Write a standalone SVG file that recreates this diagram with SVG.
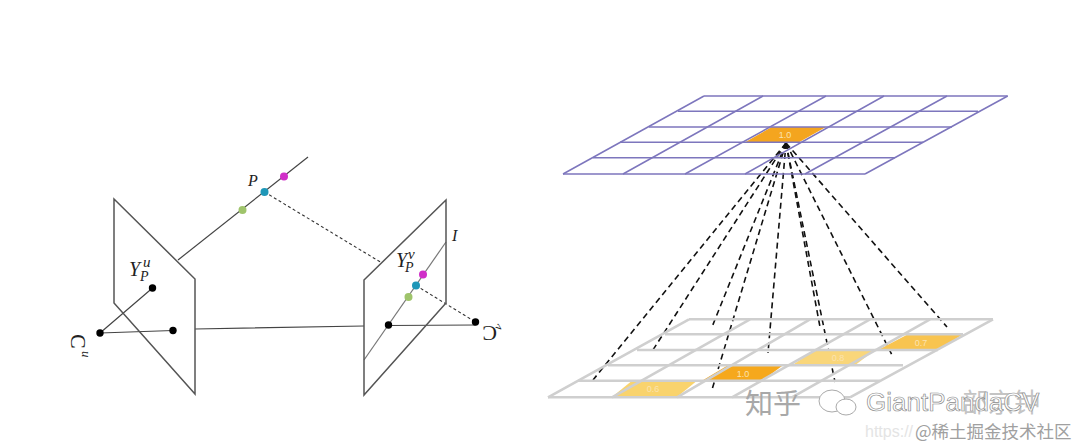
<svg xmlns="http://www.w3.org/2000/svg" width="1080" height="448" viewBox="0 0 1080 448">
<style>
.plane{fill:none;stroke:#555;stroke-width:1.5}
.ray{fill:none;stroke:#444;stroke-width:1.2}
.dash{fill:none;stroke:#333;stroke-width:1.1;stroke-dasharray:3 2.5}
.k{fill:#000}
.m{font-family:"Liberation Serif",serif;font-style:italic;fill:#222}
.top{fill:none;stroke:#7d76bd;stroke-width:1.5}
.bot{fill:none;stroke:#cfcfcf;stroke-width:2.6}
.fan{fill:none;stroke:#111;stroke-width:1.6;stroke-dasharray:6 4}
.v{font-family:"Liberation Sans",sans-serif;font-size:9px;fill:#fbe3b0;text-anchor:middle}
.wm{font-family:"Noto Sans CJK SC","Liberation Sans",sans-serif}
</style>
<rect width="1080" height="448" fill="#fff"/>
<g id="connectors">
<path class="ray" d="M178 260L308 157"/>
<path class="dash" d="M264.500 192L382 263"/>
<path class="ray" d="M100 333L152.500 288M100 333L173 330.500M195 329L364 326"/>
<path class="ray" style="stroke:#777" d="M364 360L446 242"/>
<path class="ray" d="M388.500 325.500L475.500 325"/>
<path class="dash" d="M416 285.500L475.500 322"/>
<g id="fan">
<path class="fan" d="M786 143L593 380"/>
<path class="fan" d="M786 143L651 353"/>
<path class="fan" d="M786 143L712 327"/>
<path class="fan" d="M786 143L712.500 388"/>
<path class="fan" d="M786 143L768 353"/>
<path class="fan" d="M786 143L820 327"/>
<path class="fan" d="M786 143L835 382"/>
<path class="fan" d="M786 143L893 357"/>
<path class="fan" d="M786 143L947 327"/>
</g>
</g>
<g id="plane-u"><path class="plane" d="M114 199L195 279V394L114 303Z"/></g>
<g id="plane-v"><path class="plane" d="M364 280L446 200V303L364 395Z"/></g>
<g id="point-P">
<circle cx="242.500" cy="210" r="4" fill="#9fc46b"/>
<circle cx="264.500" cy="192" r="4" fill="#1f97b8"/>
<circle cx="284" cy="176.500" r="4" fill="#d02fc8"/>
<text class="m" x="248" y="186" font-size="16">P</text>
</g>
<g id="point-l">
<circle cx="408.500" cy="297" r="4" fill="#9fc46b"/>
<circle cx="416" cy="285.500" r="4" fill="#1f97b8"/>
<circle cx="423" cy="274.500" r="4" fill="#d02fc8"/>
<text class="m" x="452" y="241" font-size="16">I</text>
</g>
<g id="camera-u">
<circle class="k" cx="100" cy="333" r="3.700"/>
<circle class="k" cx="152.500" cy="288" r="3.700"/>
<circle class="k" cx="173" cy="330.500" r="3.700"/>
<text class="m" x="129" y="276" font-size="20">Y</text>
<text class="m" x="143" y="267" font-size="15">u</text>
<text class="m" x="140" y="281" font-size="14">P</text>
<text class="m" transform="translate(71 334) rotate(90)" font-size="22" style="font-style:normal">C</text>
<text class="m" transform="translate(82 351) rotate(90)" font-size="13">u</text>
</g>
<g id="camera-v">
<circle class="k" cx="388.500" cy="325" r="3.700"/>
<circle class="k" cx="475.500" cy="322" r="3.700"/>
<text class="m" x="396" y="267" font-size="20">Y</text>
<text class="m" x="408" y="259" font-size="15">v</text>
<text class="m" x="405" y="272" font-size="14">P</text>
<text class="m" transform="translate(497 326) rotate(180)" font-size="22" style="font-style:normal">C</text>
<text class="m" transform="translate(500 331) rotate(-60)" font-size="12">v</text>
</g>
<g id="top-grid">
<path d="M771.700 127H826L799 142.300H745Z" fill="#f4a51f"/>
<path class="top" d="M704 96H1007.700M678 111.300H978M649 127H952M620 142.300H923M593 157.700H895M563 174H865"/>
<path class="top" d="M704 96L563 174M763 96L623 174M826 96L685 174M884 96L745 174M947 96L805 174M1007.700 96L865 174"/>
<text class="v" x="785" y="138">1.0</text>
</g>
<g id="bottom-grid">
<path d="M632 380.700H697L677 397H612Z" fill="#f9d36d"/>
<path d="M728 365.300H783L762 380.700H702Z" fill="#f6a81c"/>
<path d="M815 350H875L855 365.300H792Z" fill="#f9d67a"/>
<path d="M908 334.300H963L938 350H878Z" fill="#f8c450"/>
<path class="bot" d="M689 319.300H993M665 334.300H963M637 350H938M608 365.300H903M578 380.700H880M548 397.300H850"/>
<path class="bot" d="M689 319.300L548 397.300M750 319.300L612 397.300M810 319.300L677 397.300M870 319.300L732 397.300M930 319.300L792 397.300M993 319.300L850 397.300"/>
<text class="v" x="653" y="392">0.6</text>
<text class="v" x="743" y="376.500">1.0</text>
<text class="v" x="838" y="361">0.8</text>
<text class="v" x="921" y="345.500">0.7</text>
</g>
<g id="watermark">
<text class="wm" x="745" y="414" font-size="28" fill="#a8a8a8">知乎</text>
<ellipse cx="832" cy="401" rx="13" ry="11" fill="#fff" stroke="#aaa"/>
<ellipse cx="846" cy="407" rx="10" ry="8" fill="#fff" stroke="#aaa"/>
<text class="wm" x="962" y="412" font-size="26" fill="#c4c4c4">部京钟</text>
<text x="866" y="411" font-family="Liberation Sans,sans-serif" font-size="26" fill="#fff" stroke="#8c8c8c" stroke-width=".7">GiantPandaCV</text>
<text x="865" y="437" font-family="Liberation Sans,sans-serif" font-size="16" fill="#e4e4e4">https://</text>
<text class="wm" x="915" y="438" font-size="17.500" fill="#a0a0a0">@稀土掘金技术社区</text>
</g>
</svg>
